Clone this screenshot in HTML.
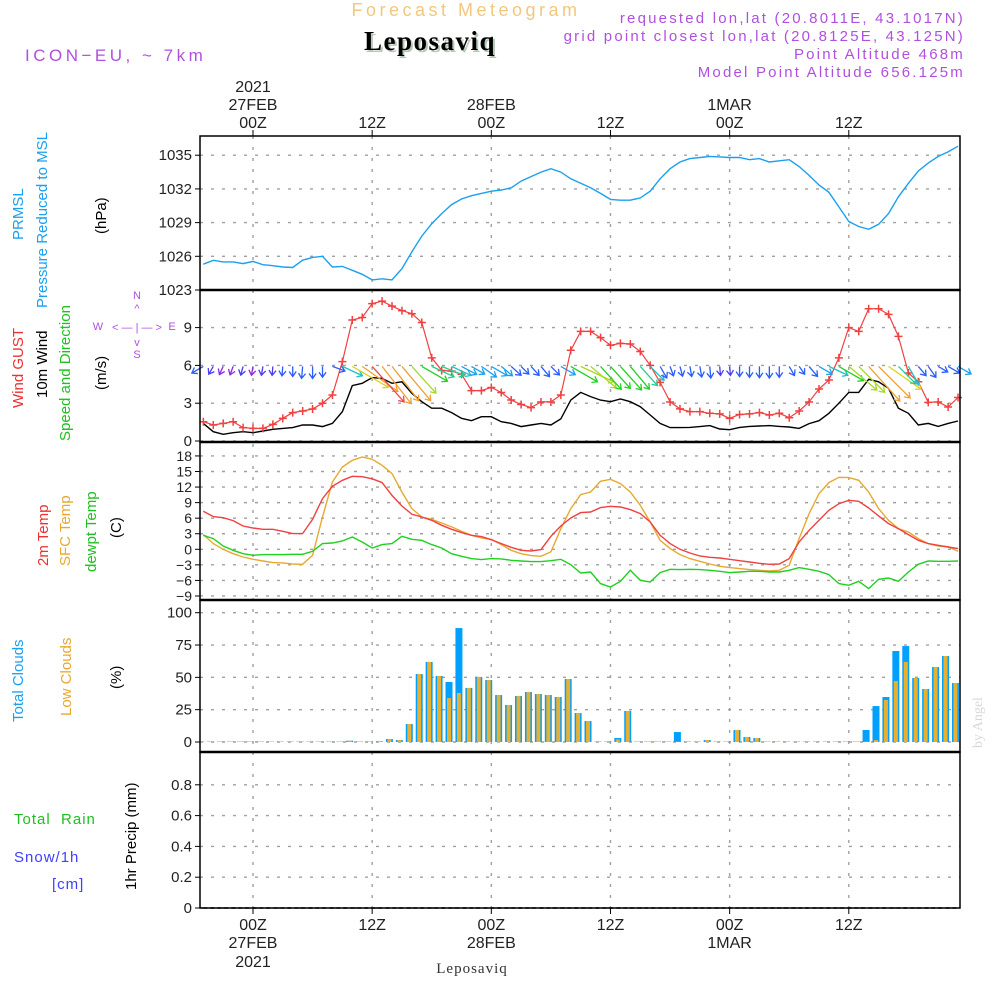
<!DOCTYPE html>
<html><head><meta charset="utf-8"><style>
html,body{margin:0;padding:0;background:#fff}
svg{display:block;font-family:"Liberation Sans",sans-serif}
</style></head><body>
<svg id="chart" width="1000" height="1000" viewBox="0 0 1000 1000" xmlns="http://www.w3.org/2000/svg">
<rect x="0" y="0" width="1000" height="1000" fill="#fff"/>
<text x="466" y="16" text-anchor="middle" font-size="18" fill="#f2c77e" letter-spacing="3.5">Forecast Meteogram</text>
<text x="432" y="52" text-anchor="middle" font-size="27" font-weight="bold" font-family="Liberation Serif,serif" fill="#b8c8b8" letter-spacing="1.5">Leposaviq</text>
<text x="430" y="50" text-anchor="middle" font-size="27" font-weight="bold" font-family="Liberation Serif,serif" fill="#000" letter-spacing="1.5">Leposaviq</text>
<text x="25" y="61" font-size="17" fill="#b050e0" letter-spacing="3.5">ICON−EU, ~ 7km</text>
<g font-size="15" fill="#b050e0" text-anchor="end" letter-spacing="2.2">
<text x="965" y="23">requested lon,lat (20.8011E, 43.1017N)</text>
<text x="965" y="41">grid point closest lon,lat (20.8125E, 43.125N)</text>
<text x="965" y="59">Point Altitude 468m</text>
<text x="965" y="77">Model Point Altitude 656.125m</text>
</g>
<g font-size="15">
<text transform="translate(23,240) rotate(-90)" fill="#1aa0f0">PRMSL</text>
<text transform="translate(47,308) rotate(-90)" fill="#1aa0f0">Pressure Reduced to MSL</text>
<text transform="translate(106,234) rotate(-90)" fill="#000">(hPa)</text>
<text transform="translate(23,408) rotate(-90)" fill="#f03030">Wind GUST</text>
<text transform="translate(47,398) rotate(-90)" fill="#000">10m Wind</text>
<text transform="translate(70,441) rotate(-90)" fill="#20c020">Speed and Direction</text>
<text transform="translate(106,390) rotate(-90)" fill="#000">(m/s)</text>
<text transform="translate(48,566) rotate(-90)" fill="#f03030">2m Temp</text>
<text transform="translate(70,566) rotate(-90)" fill="#e8a830">SFC Temp</text>
<text transform="translate(96,572) rotate(-90)" fill="#20c020">dewpt Temp</text>
<text transform="translate(121,538) rotate(-90)" fill="#000">(C)</text>
<text transform="translate(23,722) rotate(-90)" fill="#1aa0f0">Total Clouds</text>
<text transform="translate(71,716) rotate(-90)" fill="#e8a830">Low Clouds</text>
<text transform="translate(121,689) rotate(-90)" fill="#000">(%)</text>
<text x="14" y="824" fill="#20c020" letter-spacing="1">Total&#160;&#160;Rain</text>
<text x="14" y="862" fill="#4040ff" letter-spacing="1">Snow/1h</text>
<text x="52" y="889" fill="#4040ff" letter-spacing="1">[cm]</text>
<text transform="translate(136,890) rotate(-90)" fill="#000">1hr Precip (mm)</text>
</g>
<g fill="#b050e0" stroke="none" font-size="11">
<text x="137" y="299" text-anchor="middle">N</text>
<text x="137" y="312" text-anchor="middle">^</text>
<text x="98" y="330" text-anchor="middle">W</text>
<text x="137" y="331" text-anchor="middle">&lt; — | — &gt;</text>
<text x="172" y="330" text-anchor="middle">E</text>
<text x="137" y="346" text-anchor="middle">v</text>
<text x="137" y="358" text-anchor="middle">S</text>
</g>
<text transform="translate(982,748) rotate(-90)" font-size="14" font-family="Liberation Serif,serif" fill="#d8d8d8">by Angel</text>
<text x="472" y="973" text-anchor="middle" font-size="15" font-family="Liberation Serif,serif" fill="#333" letter-spacing="1">Leposaviq</text>
<g id="grid"></g>
<g id="marks"></g>
<g id="axes"></g>
</svg>
<script>
// ---- data (hourly, from hour -5 on 27FEB 00Z) ----
const startHour = -5;
const timeTickHours = [0, 12, 24, 36, 48, 60];
const timeTickLabels = ["00Z", "12Z", "00Z", "12Z", "00Z", "12Z"];
const dateLabels = ["27FEB", "", "28FEB", "", "1MAR", ""];
const yearLabels = ["2021", "", "", "", "", ""];
const pressure = [1025.3,1025.64,1025.5,1025.5,1025.35,1025.55,1025.25,1025.16,1025.05,1025.0,1025.65,1025.9,1026.0,1025.05,1025.1,1024.75,1024.4,1023.9,1024.0,1023.9,1024.9,1026.4,1027.8,1028.9,1029.8,1030.6,1031.1,1031.4,1031.6,1031.8,1031.9,1032.1,1032.7,1033.1,1033.5,1033.8,1033.5,1032.9,1032.5,1032.1,1031.6,1031.07,1031.0,1031.0,1031.2,1031.8,1032.9,1033.8,1034.4,1034.7,1034.8,1034.9,1034.85,1034.8,1034.8,1034.6,1034.7,1034.4,1034.5,1034.6,1034.0,1033.2,1032.35,1031.7,1030.4,1029.1,1028.65,1028.4,1028.85,1029.8,1031.3,1032.5,1033.6,1034.3,1034.9,1035.3,1035.8];
const gust = [1.53,1.27,1.4,1.53,1.06,1.0,1.0,1.32,1.8,2.25,2.38,2.54,3.0,3.65,6.3,9.6,9.8,10.9,11.1,10.7,10.35,10.1,9.4,6.6,5.6,5.55,5.3,4.0,4.0,4.25,3.85,3.25,2.9,2.65,3.1,3.1,3.65,7.2,8.7,8.7,8.2,7.6,7.75,7.7,7.1,6.0,4.65,3.1,2.55,2.33,2.33,2.2,2.15,1.8,2.1,2.15,2.25,2.06,2.2,1.85,2.38,3.1,4.13,4.84,6.6,9.0,8.7,10.5,10.5,10.05,8.3,5.4,4.7,3.07,3.1,2.7,3.45];
const wind = [1.4,0.74,0.53,0.66,0.74,0.66,0.79,0.93,1.0,1.06,1.27,1.27,1.14,1.4,2.33,4.4,4.58,5.03,4.97,4.58,4.7,3.78,3.12,2.6,2.6,2.25,1.8,1.61,1.93,1.93,1.53,1.4,1.14,1.27,1.4,1.27,1.75,3.25,3.86,3.52,3.25,3.12,3.33,3.12,2.72,2.06,1.4,1.06,1.06,1.08,1.14,1.22,0.95,0.9,1.08,1.16,1.19,1.22,1.16,1.11,1.0,1.38,1.61,2.2,3.0,3.86,3.86,4.9,4.7,4.18,2.6,2.2,1.27,1.4,1.16,1.4,1.59];
const windDir = [60,30,25,20,15,10,10,5,5,0,5,0,0,290,295,300,305,318,322,322,320,318,300,295,292,295,298,300,305,300,310,312,315,318,320,315,300,300,295,310,318,318,318,320,318,315,330,340,345,350,350,355,355,355,0,0,0,0,0,330,325,320,300,295,300,310,315,318,315,305,315,330,320,325,300,300,300];
const temp2m = [7.33,6.3,6.1,5.53,4.5,4.11,3.86,3.86,3.47,3.02,3.02,5.78,9.77,12.15,13.3,14.07,14.0,13.6,12.85,10.4,8.35,6.75,6.23,5.59,4.63,3.86,3.21,2.7,2.44,1.86,1.09,0.39,-0.19,-0.32,-0.06,2.5,4.5,6.04,7.07,7.2,8.03,8.29,8.16,7.65,6.88,5.27,2.7,1.09,0,-0.71,-1.29,-1.54,-1.67,-1.93,-2.19,-2.44,-2.7,-2.89,-2.83,-1.8,1.41,3.66,5.59,7.52,8.8,9.45,9.25,7.97,6.43,4.95,3.98,2.83,1.74,1.09,0.77,0.45,0.13];
const tempSfc = [2.83,1.09,0,-0.84,-1.48,-1.93,-2.25,-2.57,-2.63,-2.83,-2.89,-1.16,6.23,12.98,15.87,17.16,17.8,17.35,16.2,14.59,11.05,7.84,6.23,5.78,5.08,4.31,3.47,2.7,2.19,1.93,0.9,-0.19,-0.84,-1.22,-1.35,-0.51,3.98,7.84,10.54,11.05,13.11,13.5,12.66,11.05,8.48,5.27,1.74,0.13,-1.03,-1.8,-2.31,-2.83,-3.28,-3.53,-3.73,-3.92,-4.05,-4.18,-4.05,-3.08,2.06,6.88,10.73,12.85,13.88,13.82,13.3,11.05,7.84,5.59,3.98,3.34,2.06,1.09,0.64,0.51,-0.39];
const dewpt = [2.7,2.06,0.64,-0.19,-0.84,-1.16,-1.03,-1.03,-1.03,-0.96,-0.96,-0.39,1.09,1.22,1.61,2.38,1.41,0.26,0.9,1.09,2.5,1.93,1.74,0.9,0.26,-0.84,-1.35,-1.8,-1.99,-1.8,-1.86,-2.12,-2.25,-2.38,-2.38,-2.19,-1.93,-2.96,-4.56,-4.37,-6.62,-7.26,-6.17,-4.05,-5.98,-6.3,-4.5,-3.86,-3.92,-3.86,-3.92,-4.05,-4.24,-4.5,-4.37,-4.24,-4.24,-4.37,-4.37,-4.05,-3.53,-3.86,-4.24,-4.88,-6.62,-6.94,-6.17,-7.58,-5.78,-5.53,-6.17,-4.37,-2.89,-2.25,-2.31,-2.31,-2.25];
const totalCloud = [0.3,0.3,0.3,0.3,0.3,0.3,0.3,0.3,0.3,0.3,0.3,0.3,0.3,0.3,0.3,1,0.3,0.3,0.5,2.3,1.5,13.9,52.6,61.9,51,46.4,88.1,41.8,50.3,47.9,36.3,28.6,35.6,38.7,37.1,36.3,34.8,48.7,22.4,16.2,0.3,0.3,3.1,24,0.3,0.3,0.3,0.3,7.7,0.3,0.3,1.5,0.3,0.3,9.3,3.9,3.1,0.3,0.3,0.3,0.3,0.3,0.3,0.3,0.3,0.3,0.3,9.3,27.8,34.8,70.4,74.2,49.5,41,58,66.5,45.6];
const lowCloud = [0.3,0.3,0.3,0.3,0.3,0.3,0.3,0.3,0.3,0.3,0.3,0.3,0.3,0.3,0.3,1,0.3,0.3,0.5,2.3,1.5,13.9,52.6,61.9,51,34,37.9,41.8,50.3,47.9,36.3,28.6,35.6,38.7,37.1,36.3,34.8,48.7,22.4,16.2,0.3,0.3,2,24,0.3,0.3,0.3,0.3,0.3,0.3,0.3,1.5,0.3,0.3,9.3,3.9,3.1,0.3,0.3,0.3,0.3,0.3,0.3,0.3,0.3,0.3,0.3,0.3,1.5,32.5,47.2,61.9,49.5,41,58,66.5,45.6];
const precip = [0,0,0,0,0,0,0,0,0,0,0,0,0,0,0,0,0,0,0,0,0,0,0,0,0,0,0,0,0,0,0,0,0,0,0,0,0,0,0,0,0,0,0,0,0,0,0,0,0,0,0,0,0,0,0,0,0,0,0,0,0,0,0,0,0,0,0,0,0,0,0,0,0,0,0,0,0];
const pressTicks = [1023, 1026, 1029, 1032, 1035];
const windTicks = [0, 3, 6, 9];
const tempTicks = [-9, -6, -3, 0, 3, 6, 9, 12, 15, 18];
const cloudTicks = [0, 25, 50, 75, 100];
const precipTicks = [0, 0.2, 0.4, 0.6, 0.8];

// ---- scales ----
const X0 = 200, X1 = 960;
const xH = h => 253 + h * 9.93;
const yP = v => 256.3 - (v - 1026) * 11.23;
const yW = v => 441 - v * 12.6;
const yT = v => 549.3 - v * 5.187;
const yC = v => 742 - v * 1.293;
const yR = v => 908 - v * 154;
const panels = [[136, 290], [290, 442], [442, 600], [600, 752], [752, 908]];
const NS = "http://www.w3.org/2000/svg";
function mk(tag, attrs, parent) {
  const e = document.createElementNS(NS, tag);
  for (const k in attrs) e.setAttribute(k, attrs[k]);
  parent.appendChild(e);
  return e;
}
const grid = document.getElementById("grid");
const marks = document.getElementById("marks");
const axes = document.getElementById("axes");
const hourOf = i => startHour + i;

const defs = mk("defs", {}, document.getElementById("chart"));
panels.forEach((p, k) => {
  const cp = mk("clipPath", {id: "clip" + k}, defs);
  mk("rect", {x: X0, y: p[0], width: X1 - X0, height: p[1] - p[0]}, cp);
});

function hTicks(ticks, yf, fmt, fs, name) {
  ticks.forEach(t => {
    const y = yf(t);
    const gl = mk("line", {x1: X0, x2: X1, y1: y, y2: y, stroke: "#a0a0a0", "stroke-width": 1.4, "stroke-dasharray": "3,8"}, grid);
    
    
    mk("line", {x1: X0 - 5, x2: X0, y1: y, y2: y, stroke: "#000", "stroke-width": 1}, axes);
    const tx = mk("text", {x: 192, y: y + 5, "text-anchor": "end", "font-size": fs, fill: "#222"}, axes);
    tx.textContent = fmt(t);
    
    
  });
}
hTicks(pressTicks, yP, t => String(t), 15, "pressure");
hTicks(windTicks, yW, t => String(t), 15, "wind");
hTicks(tempTicks, yT, t => (t < 0 ? "−" + (-t) : String(t)), 14, "temp");
hTicks(cloudTicks, yC, t => String(t), 15, "cloud");
hTicks(precipTicks, yR, t => (t === 0 ? "0" : t.toFixed(1)), 15, "precip");

timeTickHours.forEach((h, i) => {
  const x = xH(h);
  const vl = mk("line", {x1: x, x2: x, y1: 136, y2: 908, stroke: "#a0a0a0", "stroke-width": 1.4, "stroke-dasharray": "3,8"}, grid);
  
  
  mk("line", {x1: x, x2: x, y1: 130, y2: 136, stroke: "#000"}, axes);
  mk("line", {x1: x, x2: x, y1: 908, y2: 914, stroke: "#000"}, axes);
  const t1 = mk("text", {x: x, y: 128, "text-anchor": "middle", "font-size": 16, fill: "#222"}, axes);
  t1.textContent = timeTickLabels[i];
  
  
  const b1 = mk("text", {x: x, y: 930, "text-anchor": "middle", "font-size": 16, fill: "#222"}, axes);
  b1.textContent = timeTickLabels[i];
  
  
  if (dateLabels[i]) {
    const t2 = mk("text", {x: x, y: 110, "text-anchor": "middle", "font-size": 16, fill: "#222"}, axes);
    t2.textContent = dateLabels[i];
    
    
    const b2 = mk("text", {x: x, y: 948, "text-anchor": "middle", "font-size": 16, fill: "#222"}, axes);
    b2.textContent = dateLabels[i];
    
    
  }
  if (yearLabels[i]) {
    const t3 = mk("text", {x: x, y: 92, "text-anchor": "middle", "font-size": 16, fill: "#222"}, axes);
    t3.textContent = yearLabels[i];
    
    
    const b3 = mk("text", {x: x, y: 967, "text-anchor": "middle", "font-size": 16, fill: "#222"}, axes);
    b3.textContent = yearLabels[i];
    
    
  }
});

function linePath(arr, yf) {
  return arr.map((v, i) => (i ? "L" : "M") + xH(hourOf(i)).toFixed(1) + "," + yf(v).toFixed(1)).join("");
}
function series(arr, yf, color, clip, name, w) {
  const p = mk("path", {d: linePath(arr, yf), fill: "none", stroke: color, "stroke-width": w || 1.4, "clip-path": "url(#clip" + clip + ")"}, marks);
  
  
}

totalCloud.forEach((v, i) => {
  const x = xH(hourOf(i)) - 2.6;
  const b = mk("rect", {x: x - 3.5, y: yC(v), width: 7, height: yC(0) - yC(v), fill: "#00a0ff"}, marks);
  
  
});
lowCloud.forEach((v, i) => {
  const x = xH(hourOf(i)) - 2.6;
  const b = mk("rect", {x: x - 2, y: yC(v), width: 4, height: yC(0) - yC(v), fill: "#e8b030"}, marks);
  
  
});

series(pressure, yP, "#1aa0f0", 0, "pressure-line");
series(wind, yW, "#000", 1, "wind-speed-line");
series(gust, yW, "#f04040", 1, "wind-gust-line", 1.2);
gust.forEach((v, i) => {
  const x = xH(hourOf(i)), y = yW(v);
  const m = mk("path", {d: `M${x - 4},${y}H${x + 4}M${x},${y - 4}V${y + 4}`, stroke: "#f04040", "stroke-width": 1.5}, marks);
  
  
});
function spdColor(s) {
  if (s < 0.7) return "#8a2be2";
  if (s < 1.0) return "#4a3cf0";
  if (s < 1.5) return "#2a5cff";
  if (s < 2.0) return "#1aa0f0";
  if (s < 2.5) return "#20c0c8";
  if (s < 3.0) return "#20d090";
  if (s < 3.5) return "#20d020";
  if (s < 4.0) return "#a8d828";
  if (s < 4.5) return "#e0d020";
  if (s < 5.0) return "#f0a030";
  return "#f04848";
}
windDir.forEach((d, i) => {
  const s = wind[i];
  const L = Math.max(9, s * 9.5);
  const r = d * Math.PI / 180;
  const dx = -Math.sin(r), dy = Math.cos(r);
  const x0 = xH(hourOf(i)), y0 = yW(6) + 1;
  const x1 = x0 + dx * L, y1 = y0 + dy * L;
  const hx = dx * 5, hy = dy * 5, px = -dy * 3.5, py = dx * 3.5;
  const a = mk("path", {d: `M${x0},${y0}L${x1},${y1}M${x1 - hx + px},${y1 - hy + py}L${x1},${y1}L${x1 - hx - px},${y1 - hy - py}`, stroke: spdColor(s), "stroke-width": 1.3, fill: "none"}, marks);
  
  
});
series(tempSfc, yT, "#e8a830", 2, "sfc-temp-line");
series(temp2m, yT, "#f04040", 2, "temp-2m-line");
series(dewpt, yT, "#20d020", 2, "dewpoint-line");
const pl = mk("path", {d: linePath(precip, yR), fill: "none", stroke: "#000", "stroke-width": 1.5, "stroke-dasharray": "4,3"}, marks);



panels.forEach((p, k) => {
  const r = mk("rect", {x: X0, y: p[0], width: X1 - X0, height: p[1] - p[0], fill: "none", stroke: "#000", "stroke-width": 1.5}, axes);
  
  
});
[290, 442, 600, 752].forEach(y => {
  mk("line", {x1: X0, x2: X1, y1: y, y2: y, stroke: "#000", "stroke-width": 2.5}, axes);
});
</script>
</body></html>
